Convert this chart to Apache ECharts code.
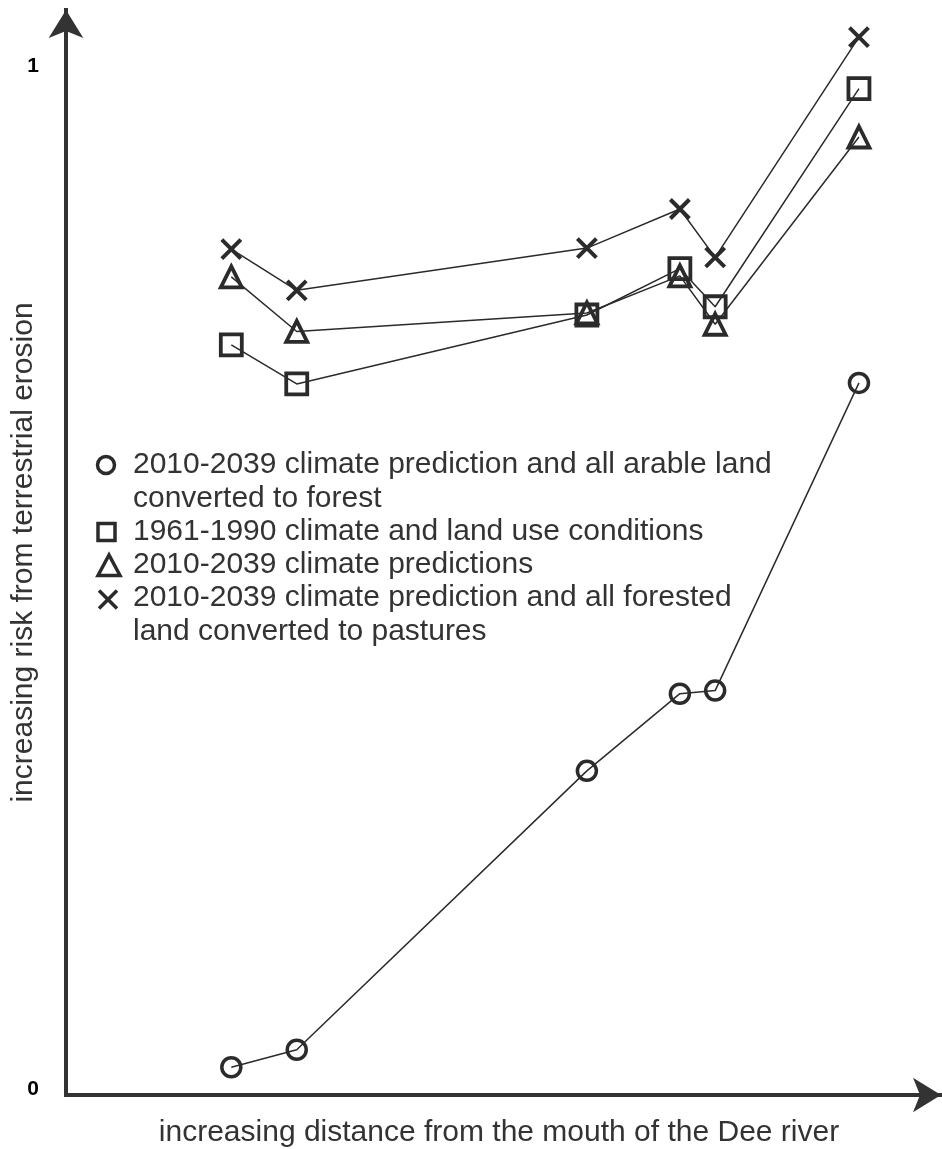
<!DOCTYPE html>
<html>
<head>
<meta charset="utf-8">
<title>Terrestrial erosion risk along the Dee river</title>
<script src="https://cdn.jsdelivr.net/npm/echarts@6/dist/echarts.min.js"></script>
<style>
  html, body { margin: 0; padding: 0; background: #fff; }
  #chart { width: 942px; height: 1149px; }
</style>
</head>
<body>
<div id="chart"></div>
<script>
// Relative position of each sub-catchment along the river (0 = mouth)
const distance = [19.2, 26.8, 60.5, 71.3, 75.4, 92.1];

// Relative erosion risk (0–1) per scenario
const forestScenario   = [0.027, 0.044, 0.315, 0.390, 0.393, 0.692];
const baselineScenario = [0.729, 0.691, 0.758, 0.803, 0.766, 0.978];
const climateScenario  = [0.795, 0.742, 0.760, 0.796, 0.749, 0.931];
const pastureScenario  = [0.822, 0.782, 0.823, 0.861, 0.814, 1.028];

const yTicks = [0, 1];

const seriesNames = [
  '2010-2039 climate prediction and all arable land\nconverted to forest',
  '1961-1990 climate and land use conditions',
  '2010-2039 climate predictions',
  '2010-2039 climate prediction and all forested\nland converted to pastures'
];

const ink = '#2b2b2b';
const font = '"Liberation Sans", Arial, sans-serif';
const crossPath = 'path://M0,0L10,10M10,0L0,10';

function pairs(ys) {
  return ys.map((y, i) => [distance[i], y]);
}

function scenario(name, ys, symbol, size, width) {
  return {
    name: name,
    type: 'line',
    data: pairs(ys),
    symbol: symbol,
    symbolSize: size,
    showAllSymbol: true,
    lineStyle: { color: ink, width: 1.5 },
    itemStyle: { color: 'rgba(0,0,0,0)', borderColor: ink, borderWidth: width },
    emphasis: { disabled: true },
    z: 3
  };
}

const chart = echarts.init(document.getElementById('chart'), null, { renderer: 'canvas' });

// Hand-made key: symbol glyphs plus wrapped text lines
const keyX = 133;
const keyTop = [448, 515, 548, 581];
const keyText = seriesNames.map((t, i) => ({
  type: 'text',
  x: keyX,
  y: keyTop[i],
  style: {
    text: t,
    font: '30px ' + font,
    lineHeight: 33.5,
    fill: '#333',
    verticalAlign: 'top'
  }
}));
const keyGlyphs = [
  { type: 'circle', shape: { cx: 106, cy: 465, r: 8.5 },
    style: { fill: 'none', stroke: ink, lineWidth: 3.5 } },
  { type: 'rect', shape: { x: 98, y: 523.5, width: 17, height: 17 },
    style: { fill: 'none', stroke: ink, lineWidth: 3.5 } },
  { type: 'polygon', shape: { points: [[109, 555], [98, 575.5], [120, 575.5]] },
    style: { fill: 'none', stroke: ink, lineWidth: 3.5 } },
  { type: 'polyline', shape: { points: [[99, 590.5], [117, 608.5]] },
    style: { stroke: ink, lineWidth: 3.5 } },
  { type: 'polyline', shape: { points: [[117, 590.5], [99, 608.5]] },
    style: { stroke: ink, lineWidth: 3.5 } }
];

chart.setOption({
  animation: false,
  backgroundColor: '#fff',
  grid: { left: 66, right: 1, top: 10, bottom: 54, containLabel: false, outerBoundsMode: 'none' },
  xAxis: {
    type: 'value',
    min: 0,
    max: 101.63,
    name: 'increasing distance from the mouth of the Dee river',
    nameLocation: 'middle',
    nameGap: 23,
    nameMoveOverlap: false,
    nameTextStyle: { fontFamily: font, fontSize: 30, color: '#333', verticalAlign: 'top', padding: [0, 9, 0, 0] },
    axisLine: {
      show: true,
      symbol: ['none', 'arrow'],
      symbolSize: [26, 28],
      lineStyle: { color: '#333', width: 4, cap: 'square' }
    },
    axisTick: { show: false },
    axisLabel: { show: false },
    splitLine: { show: false }
  },
  yAxis: {
    type: 'value',
    min: 0,
    max: 1.0544,
    interval: 1,
    name: 'increasing risk from terrestrial erosion',
    nameLocation: 'middle',
    nameGap: 27,
    nameMoveOverlap: false,
    nameTextStyle: { fontFamily: font, fontSize: 30, color: '#333' },
    axisLine: {
      show: true,
      onZero: false,
      symbol: ['none', 'arrow'],
      symbolSize: [26, 28],
      lineStyle: { color: '#333', width: 4, cap: 'square' }
    },
    axisTick: { show: false },
    splitLine: { show: false },
    axisLabel: {
      margin: 27,
      customValues: yTicks,
      formatter: function (v) {
        return v === 0 ? '{z|0}' : (v === 1 ? '{o|1}' : '');
      },
      rich: {
        z: { fontFamily: font, fontWeight: 'bold', fontSize: 21, color: '#000', padding: [0, 0, 11, 0] },
        o: { fontFamily: font, fontWeight: 'bold', fontSize: 21, color: '#000' }
      }
    }
  },
  graphic: keyGlyphs.concat(keyText),
  series: [
    scenario(seriesNames[0], forestScenario, 'circle', 19, 3.5),
    scenario(seriesNames[1], baselineScenario, 'rect', 21, 3.8),
    scenario(seriesNames[2], climateScenario, 'triangle', 21, 3.8),
    scenario(seriesNames[3], pastureScenario, crossPath, 19, 4)
  ]
});
</script>
</body>
</html>
